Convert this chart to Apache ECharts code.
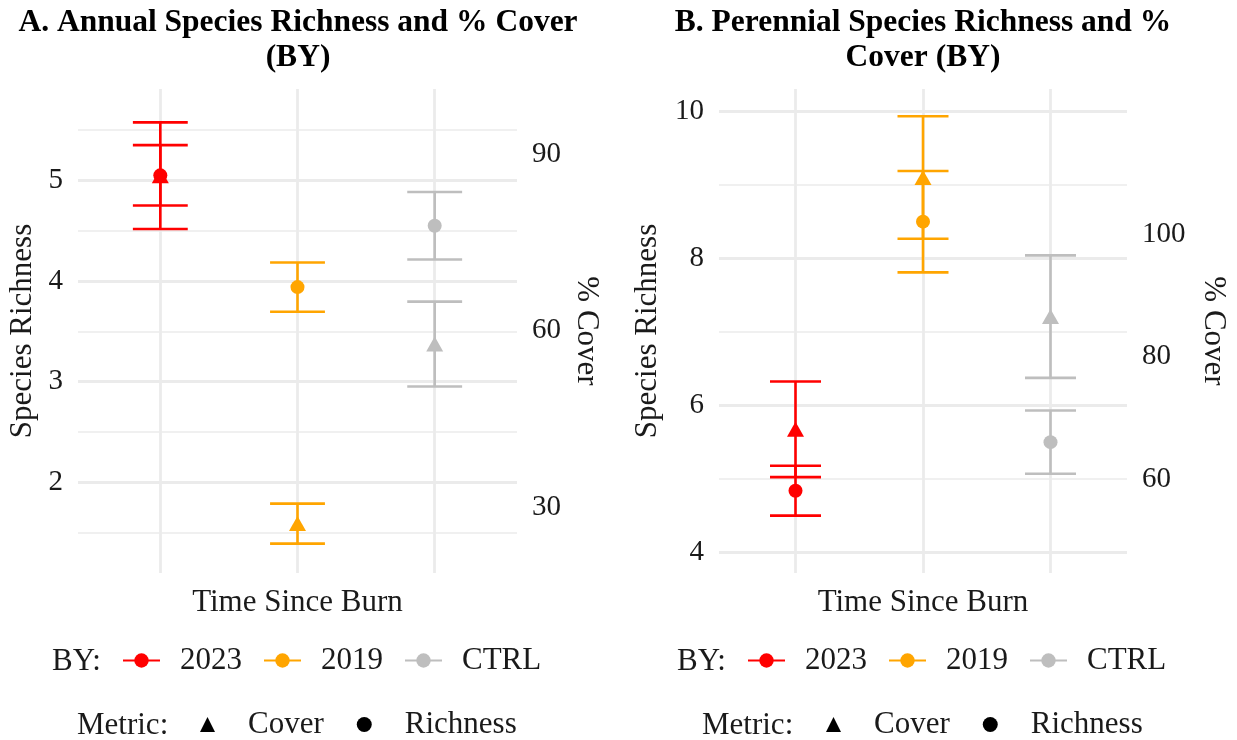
<!DOCTYPE html>
<html>
<head>
<meta charset="utf-8">
<script src="https://cdn.jsdelivr.net/npm/echarts@6/dist/echarts.min.js"></script>
<style>
  html, body { margin: 0; padding: 0; background: #ffffff; }
  #chart { width: 1237px; height: 740px; }
</style>
</head>
<body>
<div id="chart"></div>
<script>
// Burn-year groups and their colours
const groups = ['2023', '2019', 'CTRL'];
const groupColors = ['#FF0000', '#FFA500', '#BEBEBE'];
const metrics = ['Cover', 'Richness'];

// Panel A: annual species (mean and standard error)
const annualRichMean = [5.05, 3.94, 4.55];
const annualRichSE = [0.30, 0.245, 0.335];
const annualCoverMean = [86.3, 27.2, 57.7];
const annualCoverSE = [9.05, 3.4, 7.2];
const annualRichTicks = [2, 3, 4, 5];
const annualRichMinor = [1.5, 2.5, 3.5, 4.5, 5.5];
const annualCoverTicks = [30, 60, 90];

// Panel B: perennial species (mean and standard error)
const perRichMean = [4.84, 8.50, 5.50];
const perRichSE = [0.34, 0.69, 0.43];
const perCoverMean = [68.1, 109.2, 86.5];
const perCoverSE = [7.8, 10.0, 10.0];
const perRichTicks = [4, 6, 8, 10];
const perRichMinor = [5, 7, 9];
const perCoverTicks = [60, 80, 100];

const FONT = '"Liberation Serif", "Times New Roman", serif';
const TEXT = '#1a1a1a';
const GRID = '#EBEBEB';
const CAP_WIDTH = 0.4;

const panels = [
  {
    title: 'A. Annual Species Richness and % Cover',
    title2: '(BY)',
    centerX: 298,
    grid: { left: 78, right: 720, top: 89, bottom: 167 },
    richRange: [1.10, 5.908],
    coverScale: 17.1,
    richMean: annualRichMean, richSE: annualRichSE,
    coverMean: annualCoverMean, coverSE: annualCoverSE,
    richTicks: annualRichTicks, richMinor: annualRichMinor, coverTicks: annualCoverTicks,
    leftNameGap: 40, rightNameGap: 54,
    byLabelX: 52, byLegendX: 122, metricLabelX: 77, metricLegendX: 200
  },
  {
    title: 'B. Perennial Species Richness and %',
    title2: 'Cover (BY)',
    centerX: 923,
    grid: { left: 719, right: 110, top: 89, bottom: 167 },
    richRange: [3.72, 10.305],
    coverScale: 12,
    richMean: perRichMean, richSE: perRichSE,
    coverMean: perCoverMean, coverSE: perCoverSE,
    richTicks: perRichTicks, richMinor: perRichMinor, coverTicks: perCoverTicks,
    leftNameGap: 56, rightNameGap: 71,
    byLabelX: 677, byLegendX: 747, metricLabelX: 702, metricLegendX: 826
  }
];

function errorBarItem(params, api) {
  const x = api.value(0);
  const lo = api.value(1);
  const hi = api.value(2);
  const color = groupColors[api.value(3)];
  const top = api.coord([x, hi]);
  const bot = api.coord([x, lo]);
  const half = api.size([CAP_WIDTH, 0])[0] / 2;
  const style = { stroke: color, lineWidth: 2.6 };
  return {
    type: 'group',
    children: [
      { type: 'line', shape: { x1: top[0], y1: top[1], x2: bot[0], y2: bot[1] }, style: style },
      { type: 'line', shape: { x1: top[0] - half, y1: top[1], x2: top[0] + half, y2: top[1] }, style: style },
      { type: 'line', shape: { x1: bot[0] - half, y1: bot[1], x2: bot[0] + half, y2: bot[1] }, style: style }
    ]
  };
}

function tickFormatter(ticks) {
  return function (v) {
    return ticks.some(function (t) { return Math.abs(t - v) < 1e-9; }) ? String(v) : '';
  };
}

const grids = [], xAxes = [], yAxes = [], series = [], legends = [], graphics = [];

panels.forEach(function (p, i) {
  grids.push(Object.assign({ outerBoundsMode: 'none', containLabel: false }, p.grid));

  xAxes.push({
    type: 'value', gridIndex: i, min: -0.6, max: 2.6,
    axisLine: { show: false }, axisTick: { show: false },
    axisLabel: { show: false }, splitLine: { show: false },
    name: 'Time Since Burn', nameLocation: 'middle', nameGap: 14,
    nameTextStyle: { fontFamily: FONT, fontSize: 31, color: TEXT }
  });

  const axisLabelBase = { fontFamily: FONT, fontSize: 29, color: TEXT, margin: 15 };
  yAxes.push({
    type: 'value', gridIndex: i, position: 'left',
    min: p.richRange[0], max: p.richRange[1], splitNumber: i === 0 ? 5 : 4,
    axisLine: { show: false }, axisTick: { show: false }, splitLine: { show: false },
    axisLabel: Object.assign({ formatter: tickFormatter(p.richTicks) }, axisLabelBase),
    name: 'Species Richness', nameLocation: 'middle', nameGap: p.leftNameGap, nameRotate: 90,
    nameTextStyle: { fontFamily: FONT, fontSize: 31, color: TEXT }
  });
  yAxes.push({
    type: 'value', gridIndex: i, position: 'right',
    min: p.richRange[0] * p.coverScale, max: p.richRange[1] * p.coverScale,
    splitNumber: i === 0 ? 3 : 4,
    axisLine: { show: false }, axisTick: { show: false }, splitLine: { show: false },
    axisLabel: Object.assign({ formatter: tickFormatter(p.coverTicks) }, axisLabelBase),
    name: '% Cover', nameLocation: 'middle', nameGap: p.rightNameGap, nameRotate: -90,
    nameTextStyle: { fontFamily: FONT, fontSize: 31, color: TEXT }
  });

  const richAxis = i * 2, coverAxis = i * 2 + 1;

  // panel grid lines, kept underneath all marks
  const gridLines = [];
  p.richMinor.forEach(function (v) { gridLines.push({ yAxis: v, lineStyle: { width: 1.7 } }); });
  p.richTicks.forEach(function (v) { gridLines.push({ yAxis: v, lineStyle: { width: 2.8 } }); });
  groups.forEach(function (g, j) { gridLines.push({ xAxis: j, lineStyle: { width: 2.8 } }); });
  series.push({
    type: 'line', name: 'panel-grid-' + i, xAxisIndex: i, yAxisIndex: richAxis,
    data: [], silent: true, z: 0, animation: false,
    markLine: {
      z: 0, silent: true, symbol: ['none', 'none'], animation: false,
      label: { show: false },
      lineStyle: { color: GRID, type: 'solid', width: 2.8 },
      emphasis: { disabled: true },
      data: gridLines
    }
  });

  // error bars
  series.push({
    type: 'custom', name: 'rich-err-' + i, xAxisIndex: i, yAxisIndex: richAxis,
    renderItem: errorBarItem, z: 10, silent: true, animation: false,
    encode: { x: 0, y: [1, 2] },
    data: groups.map(function (g, j) {
      return [j, p.richMean[j] - p.richSE[j], p.richMean[j] + p.richSE[j], j];
    })
  });
  series.push({
    type: 'custom', name: 'cover-err-' + i, xAxisIndex: i, yAxisIndex: coverAxis,
    renderItem: errorBarItem, z: 10, silent: true, animation: false,
    encode: { x: 0, y: [1, 2] },
    data: groups.map(function (g, j) {
      return [j, p.coverMean[j] - p.coverSE[j], p.coverMean[j] + p.coverSE[j], j];
    })
  });

  // points
  series.push({
    type: 'scatter', name: 'Richness', xAxisIndex: i, yAxisIndex: richAxis,
    symbol: 'circle', symbolSize: 14, z: 11, animation: false,
    itemStyle: { color: '#000000', opacity: 1 },
    data: groups.map(function (g, j) {
      return { value: [j, p.richMean[j]], itemStyle: { color: groupColors[j] } };
    })
  });
  series.push({
    type: 'scatter', name: 'Cover', xAxisIndex: i, yAxisIndex: coverAxis,
    symbol: 'triangle', symbolSize: [17, 15], z: 12, animation: false,
    itemStyle: { color: '#000000', opacity: 1 },
    data: groups.map(function (g, j) {
      return { value: [j, p.coverMean[j]], itemStyle: { color: groupColors[j] } };
    })
  });

  // legends
  legends.push({
    data: groups, left: p.byLegendX, top: 645, orient: 'horizontal',
    padding: 0, itemWidth: 37, itemHeight: 18, itemGap: 21, selectedMode: false,
    textStyle: { fontFamily: FONT, fontSize: 31, color: TEXT, padding: [0, 0, 0, 15] }
  });
  legends.push({
    data: metrics, left: p.metricLegendX, top: 709, orient: 'horizontal',
    padding: 0, itemWidth: 15, itemHeight: 15, itemGap: 33, selectedMode: false,
    textStyle: { fontFamily: FONT, fontSize: 31, color: TEXT, padding: [0, 0, 0, 28] }
  });

  // titles and legend headings
  graphics.push({
    type: 'text', x: p.centerX, y: 23,
    style: { text: p.title, fontFamily: FONT, fontSize: 31.5, fontWeight: 'bold', fill: '#000', textAlign: 'center', textVerticalAlign: 'middle' }
  });
  graphics.push({
    type: 'text', x: p.centerX, y: 58,
    style: { text: p.title2, fontFamily: FONT, fontSize: 31.5, fontWeight: 'bold', fill: '#000', textAlign: 'center', textVerticalAlign: 'middle' }
  });
  graphics.push({
    type: 'text', x: p.byLabelX, y: 662,
    style: { text: 'BY:', fontFamily: FONT, fontSize: 31, fill: TEXT, textAlign: 'left', textVerticalAlign: 'middle' }
  });
  graphics.push({
    type: 'text', x: p.metricLabelX, y: 726,
    style: { text: 'Metric:', fontFamily: FONT, fontSize: 31, fill: TEXT, textAlign: 'left', textVerticalAlign: 'middle' }
  });
});

// legend-only series for the burn-year key (line with dot)
groups.forEach(function (g, j) {
  series.push({
    type: 'line', name: g, xAxisIndex: 0, yAxisIndex: 0, data: [],
    symbol: 'circle', color: groupColors[j],
    itemStyle: { color: groupColors[j] },
    lineStyle: { color: groupColors[j], width: 3 }
  });
});

const chart = echarts.init(document.getElementById('chart'), null, { renderer: 'canvas' });
chart.setOption({
  backgroundColor: '#ffffff',
  animation: false,
  grid: grids,
  xAxis: xAxes,
  yAxis: yAxes,
  legend: legends,
  graphic: graphics,
  series: series
});
</script>
</body>
</html>
